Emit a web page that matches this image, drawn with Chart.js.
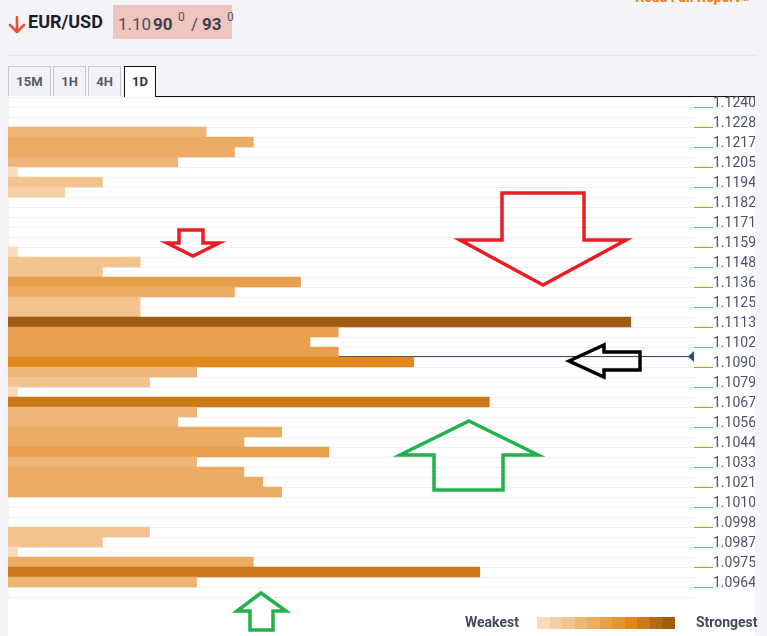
<!DOCTYPE html>
<html>
<head>
<meta charset="utf-8">
<script src="https://cdn.jsdelivr.net/npm/chart.js@4.4.1/dist/chart.umd.min.js"></script>
<style>
  html, body { margin: 0; padding: 0; background: #f4f4f8; font-family: Roboto, 'Noto Sans', sans-serif; }
  #page { position: relative; width: 767px; height: 636px; overflow: hidden; background: #f4f4f8; }
  #panel { position: absolute; left: 8px; top: 96px; width: 747px; height: 540px; background: #fff; }
  #panel-line { position: absolute; left: 155px; top: 96px; width: 600px; height: 1px; background: #111; }
  canvas { position: absolute; left: 0; top: 0; }
  .abs { position: absolute; white-space: nowrap; }
  #divider { position: absolute; left: 8px; top: 55px; width: 749px; height: 1px; background: #e6e6ec; }
  .tab { position: absolute; top: 66px; height: 30px; line-height: 30px; text-align: center;
         font-size: 13px; font-weight: 700; color: #555b6a; background: #f2f2f6;
         border: 1px solid #c9c9ce; border-bottom: none; box-sizing: border-box; }
  .tab.active { background: #fff; color: #2f3542; border-color: #111; height: 31px; }
  #quote { position: absolute; left: 113px; top: 5px; width: 119px; height: 34px; background: #f0c4bf; }
  .legend-txt { font-size: 14px; font-weight: 700; color: #414b5c; }
</style>
</head>
<body>
<div id="page">
  <div id="panel"></div>
  <div id="divider"></div>

  <div class="abs" style="right:17px; top:-11px; font-size:14px; font-weight:700; color:#e5801a;">Read Full Report »</div>

  <svg class="abs" style="left:8px; top:16px;" width="18" height="18" viewBox="0 0 18 18">
    <path d="M9 1 V16 M2 9 L9 16 L16 9" fill="none" stroke="#e0553b" stroke-width="2.6" stroke-linecap="round" stroke-linejoin="round"/>
  </svg>
  <div class="abs" style="left:28px; top:11px; font-size:18px; font-weight:700; color:#1b1f2a;">EUR/USD</div>
  <div id="quote"></div>
  <div class="abs" style="left:118px; top:14px; font-size:17px; color:#4d5260;">1.10</div>
  <div class="abs" style="left:153px; top:14px; font-size:17px; font-weight:700; color:#3d414d;">90</div>
  <div class="abs" style="left:178px; top:10px; font-size:12px; color:#4d5260;">0</div>
  <div class="abs" style="left:191px; top:14px; font-size:17px; color:#4d5260;">/</div>
  <div class="abs" style="left:202px; top:14px; font-size:17px; font-weight:700; color:#3d414d;">93</div>
  <div class="abs" style="left:227px; top:10px; font-size:12px; color:#4d5260;">0</div>

  <div class="tab" style="left:8px; width:43px;">15M</div>
  <div class="tab" style="left:53px; width:33px;">1H</div>
  <div class="tab" style="left:88px; width:33px;">4H</div>
  <div class="tab active" style="left:124px; width:32px;">1D</div>
  <div id="panel-line"></div>

  <canvas id="chart" width="767" height="636"></canvas>

  <div class="abs legend-txt" style="left:465px; top:614px;">Weakest</div>
  <div class="abs" id="swatches" style="left:537px; top:617px; height:12px; display:flex;"></div>
  <div class="abs legend-txt" style="left:696px; top:614px;">Strongest</div>
</div>

<script>
// Price levels shown on the right axis, top to bottom (one every second row)
const priceTicks = [
  '1.1240', '1.1228', '1.1217', '1.1205', '1.1194', '1.1182', '1.1171', '1.1159',
  '1.1148', '1.1136', '1.1125', '1.1113', '1.1102', '1.1090', '1.1079', '1.1067',
  '1.1056', '1.1044', '1.1033', '1.1021', '1.1010', '1.0998', '1.0987', '1.0975', '1.0964'
];

// Confluence strength per price row, top to bottom (50 rows)
const strength = [
   0,  0,  0, 21, 26, 24, 18,  1, 10,  6,
   0,  0,  0,  0,  0,  1, 14, 10, 31, 24,
  14, 14, 66, 35, 32, 35, 43, 20, 15,  1,
  51, 20, 18, 29, 25, 34, 20, 25, 27, 29,
   0,  0,  0, 15, 10,  1, 26, 50, 20,  0
];

// Current price sits between rows 25 and 26 (1.10900)
const currentRow = 25.5;

// Strength palette, weakest -> strongest
const PALETTE = [
  '#f8dbbb', '#f5cea3', '#f2c38f', '#efb577', '#ecab63', '#e89f4d',
  '#e69535', '#e2871b', '#cc7819', '#b26815', '#9e5d12'
];

function colorFor(v) {
  const limits = [3, 8, 16, 22, 29, 36, 40, 46, 55, 62];
  let i = 0;
  while (i < limits.length && v > limits[i]) i++;
  return PALETTE[i];
}

// legend swatches
document.getElementById('swatches').innerHTML = PALETTE
  .map(c => `<div style="width:12.5px;height:12px;background:${c};"></div>`).join('');

const rowLabels = strength.map((_, r) => (r % 2 === 0 ? priceTicks[r / 2] : ''));

// Current price line with marker, drawn behind the bars
const priceLine = {
  id: 'priceLine',
  beforeDatasetsDraw(chart) {
    const { ctx, chartArea: a, scales: { y } } = chart;
    const py = Math.round(y.getPixelForValue(currentRow)) - 0.5;
    ctx.save();
    ctx.strokeStyle = '#2c4b72';
    ctx.lineWidth = 1;
    ctx.beginPath();
    ctx.moveTo(a.left, py);
    ctx.lineTo(a.right, py);
    ctx.stroke();
    ctx.fillStyle = '#2c4b72';
    ctx.beginPath();
    ctx.moveTo(a.right - 6, py);
    ctx.lineTo(a.right, py - 5.5);
    ctx.lineTo(a.right, py + 5.5);
    ctx.closePath();
    ctx.fill();
    ctx.restore();
  }
};

// Hand-drawn arrow annotations over the chart
function outline(ctx, pts, color) {
  ctx.save();
  ctx.strokeStyle = color;
  ctx.lineWidth = 3.5;
  ctx.lineJoin = 'miter';
  ctx.beginPath();
  pts.forEach(([x, y], i) => (i ? ctx.lineTo(x, y) : ctx.moveTo(x, y)));
  ctx.closePath();
  ctx.stroke();
  ctx.restore();
}

const annotations = {
  id: 'annotations',
  afterDraw(chart) {
    const ctx = chart.ctx;
    // big red down arrow
    outline(ctx, [[502, 193], [584, 193], [584, 240], [626, 240], [543, 285], [460, 240], [502, 240]], '#ec1c24');
    // small red down arrow
    outline(ctx, [[179, 230], [203, 230], [203, 243], [219, 243], [193, 256], [167, 243], [179, 243]], '#ec1c24');
    // black left arrow
    outline(ctx, [[569, 361], [604, 345], [604, 352], [640, 352], [640, 370], [604, 370], [604, 377]], '#000');
    // big green up arrow
    outline(ctx, [[469, 421], [538, 455], [503, 455], [503, 490], [434, 490], [434, 455], [400, 455]], '#22b14c');
    // small green up arrow
    outline(ctx, [[261, 593], [286, 611], [273, 611], [273, 630], [250, 630], [250, 611], [237, 611]], '#22b14c');
  }
};

new Chart(document.getElementById('chart'), {
  type: 'bar',
  data: {
    labels: rowLabels,
    datasets: [{
      data: strength,
      backgroundColor: strength.map(colorFor),
      borderWidth: 0,
      barPercentage: 1,
      categoryPercentage: 1
    }]
  },
  options: {
    indexAxis: 'y',
    responsive: false,
    devicePixelRatio: 1,
    animation: false,
    layout: { padding: { left: 8, top: 97, bottom: 39, right: 12 } },
    plugins: { legend: { display: false }, tooltip: { enabled: false } },
    scales: {
      x: { display: false, min: 0, max: 72.7 },
      y: {
        position: 'right',
        afterFit: (s) => { s.width = 61; },
        border: { display: false },
        grid: {
          color: '#eeeef4',
          lineWidth: 1,
          drawTicks: true,
          tickLength: 19,
          tickWidth: 1,
          tickColor: (c) => (c.index % 2 === 1 ? '#e8870f' : 'rgba(0,0,0,0)')
        },
        ticks: {
          autoSkip: false,
          padding: 0,
          labelOffset: 1.5,
          color: '#4a5366',
          font: { family: 'Roboto', size: 14 }
        }
      }
    }
  },
  plugins: [priceLine, annotations]
});
</script>
</body>
</html>
